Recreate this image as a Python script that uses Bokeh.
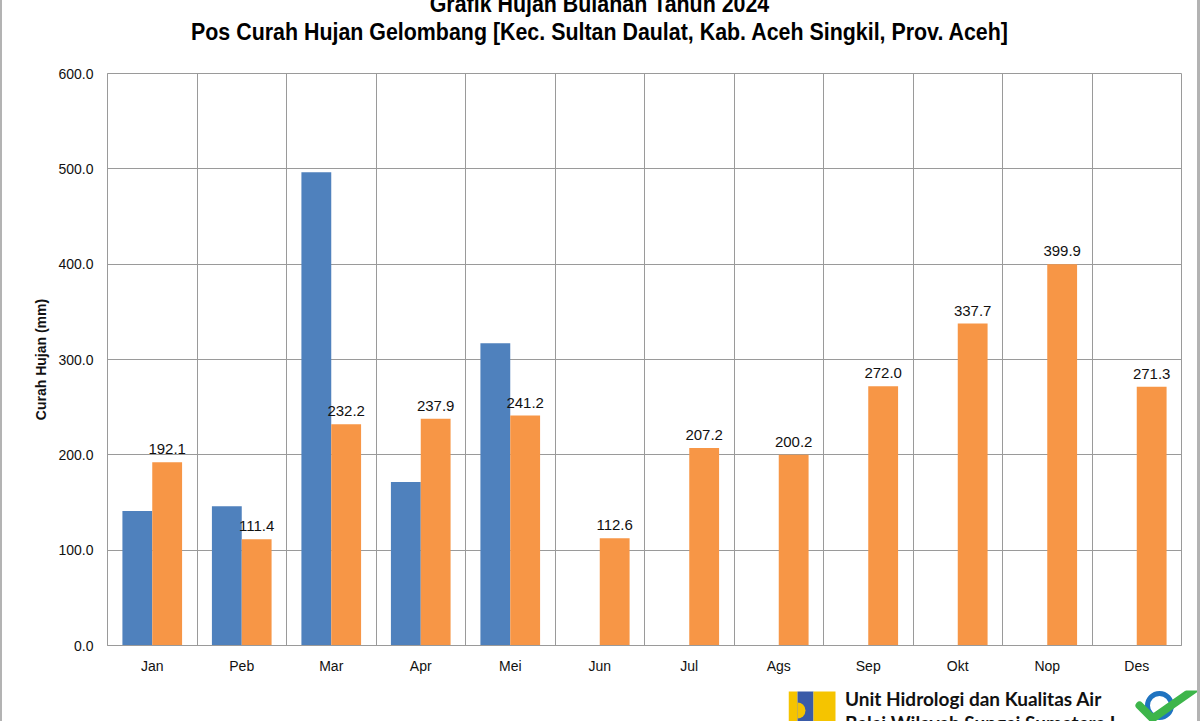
import numpy as np
from bokeh.plotting import figure
from bokeh.models import (ColumnDataSource, Range1d, FixedTicker, NumeralTickFormatter,
                          LabelSet, Div, Spacer)
from bokeh.layouts import row, column
from bokeh.transform import dodge
from bokeh.core.properties import value
from bokeh.embed import file_html
from bokeh.resources import INLINE

# ---------------- data ----------------
months = ["Jan", "Peb", "Mar", "Apr", "Mei", "Jun", "Jul", "Ags", "Sep", "Okt", "Nop", "Des"]
blue_vals = [141.1, 146.1, 496.3, 171.6, 317.0, None, None, None, None, None, None, None]
orange_vals = [192.1, 111.4, 232.2, 237.9, 241.2, 112.6, 207.2, 200.2, 272.0, 337.7, 399.9, 271.3]
y_ticks = [0, 100, 200, 300, 400, 500, 600]
title_line1 = "Grafik Hujan Bulanan Tahun 2024"
title_line2 = "Pos Curah Hujan Gelombang [Kec. Sultan Daulat, Kab. Aceh Singkil, Prov. Aceh]"
y_label = "Curah Hujan (mm)"
footer_line1 = "Unit Hidrologi dan Kualitas Air"
footer_line2 = "Balai Wilayah Sungai Sumatera I"

BLUE = "#4F81BD"
ORANGE = "#F79646"
GRID = "#9a9a9a"
FONT = "Liberation Sans"

centers = np.arange(len(months)) + 0.5
bi = [i for i, v in enumerate(blue_vals) if v is not None]
blue_src = ColumnDataSource(dict(x=[centers[i] for i in bi], top=[blue_vals[i] for i in bi]))
orange_src = ColumnDataSource(dict(x=centers, top=orange_vals,
                                   label=[f"{v:.1f}" for v in orange_vals]))

# ---------------- main figure ----------------
p = figure(width=1195, height=640, x_range=Range1d(0, len(months)), y_range=Range1d(0, 600),
           output_backend="svg", toolbar_location=None,
           min_border_left=105, min_border_right=16, min_border_top=23, min_border_bottom=45)
p.background_fill_color = "white"
p.border_fill_color = "white"
p.outline_line_color = GRID
p.outline_line_width = 1

p.vbar(x=dodge("x", -1/6, range=p.x_range), top="top", width=1/3, bottom=0,
       source=blue_src, fill_color=BLUE, line_color=None)
p.vbar(x=dodge("x", 1/6, range=p.x_range), top="top", width=1/3, bottom=0,
       source=orange_src, fill_color=ORANGE, line_color=None)

labels = LabelSet(x=dodge("x", 1/6, range=p.x_range), y="top", text="label", source=orange_src,
                  text_align="center", text_baseline="bottom", y_offset=8,
                  text_font=value(FONT), text_font_size=value("15px"),
                  text_color=value("#111111"))
p.add_layout(labels)

# y axis
p.yaxis.ticker = FixedTicker(ticks=y_ticks)
p.yaxis.formatter = NumeralTickFormatter(format="0.0")
p.yaxis.axis_label = y_label
p.yaxis.axis_label_text_font = FONT
p.yaxis.axis_label_text_font_style = "bold"
p.yaxis.axis_label_text_font_size = "14px"
p.yaxis.axis_label_text_color = "#111111"
p.yaxis.axis_label_standoff = 6
p.yaxis.major_label_text_font = FONT
p.yaxis.major_label_text_font_size = "14px"
p.yaxis.major_label_text_color = "#111111"
p.yaxis.major_label_standoff = 14
p.yaxis.major_tick_line_color = None
p.yaxis.major_tick_out = 0
p.yaxis.major_tick_in = 0
p.yaxis.minor_tick_line_color = None
p.yaxis.axis_line_color = GRID

# x axis
p.xaxis.ticker = FixedTicker(ticks=list(centers))
p.xaxis.major_label_overrides = {float(c): m for c, m in zip(centers, months)}
p.xaxis.major_label_text_font = FONT
p.xaxis.major_label_text_font_size = "14px"
p.xaxis.major_label_text_color = "#111111"
p.xaxis.major_label_standoff = 12
p.xaxis.major_tick_line_color = None
p.xaxis.major_tick_out = 0
p.xaxis.major_tick_in = 0
p.xaxis.minor_tick_line_color = None
p.xaxis.axis_line_color = GRID

# grids
p.ygrid.ticker = FixedTicker(ticks=y_ticks)
p.ygrid.grid_line_color = GRID
p.ygrid.grid_line_width = 1
p.xgrid.ticker = FixedTicker(ticks=list(range(1, len(months))))
p.xgrid.grid_line_color = GRID
p.xgrid.grid_line_width = 1

# ---------------- title ----------------
title_div = Div(
    text=(f"<div style=\"width:1195px;text-align:center;font-family:'Liberation Sans',sans-serif;"
          f"font-weight:bold;font-size:23px;line-height:28px;margin-top:-10px;white-space:nowrap;"
          f"color:#000;transform:scaleX(0.93);transform-origin:center top\">"
          f"{title_line1}<br>{title_line2}</div>"),
    width=1195, height=50, margin=0, styles={"overflow": "hidden"})

# ---------------- footer ----------------
logo = figure(width=52, height=31, x_range=Range1d(0, 52), y_range=Range1d(0, 31),
              output_backend="svg", toolbar_location=None, min_border=0)
logo.axis.visible = False
logo.grid.visible = False
logo.outline_line_color = None
logo.quad(left=[0], right=[9], bottom=[0], top=[30], fill_color="#F5C400", line_color=None)
logo.quad(left=[9], right=[25], bottom=[0], top=[30], fill_color="#3A5BA8", line_color=None)
logo.wedge(x=[9], y=[11], radius=8, start_angle=-np.pi/2, end_angle=np.pi/2,
           fill_color="#F5C400", line_color=None)
logo.quad(left=[25], right=[47], bottom=[0], top=[30], fill_color="#F5C400", line_color=None)

footer_div = Div(
    text=(f"<div style=\"font-family:Lato, 'Open Sans', sans-serif;font-weight:bold;font-size:19px;"
          f"line-height:24px;margin-top:-3px;padding-left:5px;white-space:nowrap;color:#111\">"
          f"{footer_line1}<br>{footer_line2}</div>"),
    width=280, height=31, margin=0, styles={"overflow": "hidden"})

iso = figure(width=77, height=31, x_range=Range1d(0, 77), y_range=Range1d(0, 31),
             output_backend="svg", toolbar_location=None, min_border=0)
iso.axis.visible = False
iso.grid.visible = False
iso.outline_line_color = None
iso.circle(x=[39], y=[16], radius=12, fill_color="white", line_color="#1F73C0", line_width=5)
iso.line(x=[19, 32, 75], y=[16, 3, 33], line_color="#3DB54A", line_width=8,
         line_join="round", line_cap="round")

footer = row(Spacer(width=786, height=31), logo, footer_div, iso, margin=0)

main = column(title_div, p, footer, margin=0)
left_bar = Div(text="", width=2, height=721, margin=0, styles={"background-color": "#b3b3b3"})
right_bar = Div(text="", width=3, height=721, margin=0, styles={"background-color": "#b3b3b3"})
layout = row(left_bar, main, right_bar, margin=0)

open("out.html", "w").write(file_html(layout, INLINE))
